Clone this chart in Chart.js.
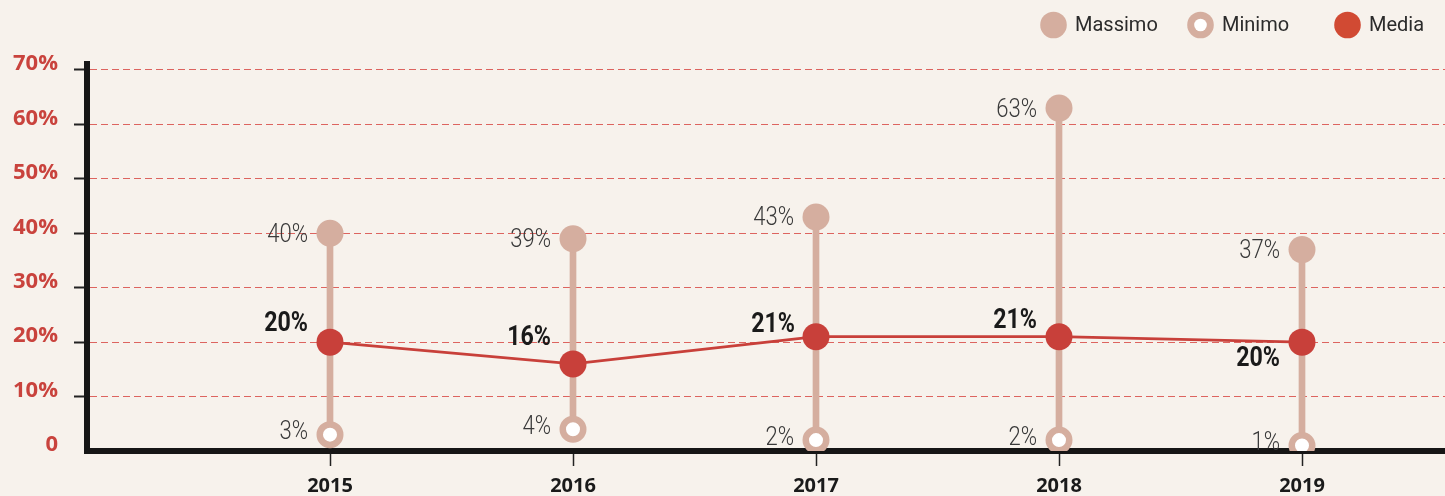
<!DOCTYPE html>
<html lang="it">
<head>
<meta charset="utf-8">
<title>Massimo, minimo e media 2015–2019</title>
<script src="https://cdn.jsdelivr.net/npm/chart.js@4.4.1/dist/chart.umd.min.js"></script>
<style>
  html, body { margin: 0; padding: 0; background: #f7f2ec; }
  #wrap { width: 1445px; height: 496px; }
  canvas { display: block; }
</style>
</head>
<body>
<div id="wrap"><canvas id="chart" width="1445" height="496"></canvas></div>
<script>
// Anni e valori (percentuali)
const anni = [2015, 2016, 2017, 2018, 2019];
const massimo = [40, 39, 43, 63, 37];
const minimo = [3, 4, 2, 2, 1];
const media = [20, 16, 21, 21, 20];
const yTicks = [0, 10, 20, 30, 40, 50, 60, 70];
const legendaVoci = ['Massimo', 'Minimo', 'Media'];

// Posizione delle etichette della media rispetto al punto (px)
const spostamentoMedia = [[-22, -18], [-22, -26], [-21, -11], [-22, -15], [-22, 17]];

const COL_CHIARO = '#d5ae9f';
const COL_ROSSO = '#c8403a';
const COL_LEGENDA_ROSSO = '#d14a33';
const COL_SFONDO = '#f7f2ec';

const sfondo = {
  id: 'sfondo',
  beforeDraw(chart) {
    const ctx = chart.ctx;
    ctx.save();
    ctx.fillStyle = COL_SFONDO;
    ctx.fillRect(0, 0, chart.width, chart.height);
    ctx.restore();
  }
};

function testoStretto(ctx, text, x, y, font, scala, colore) {
  ctx.save();
  ctx.translate(x, y);
  ctx.scale(scala, 1);
  ctx.font = font;
  ctx.fillStyle = colore;
  ctx.textAlign = 'right';
  ctx.textBaseline = 'middle';
  ctx.fillText(text, 0, 0);
  ctx.restore();
}

const etichette = {
  id: 'etichette',
  afterDatasetsDraw(chart) {
    const ctx = chart.ctx;
    const metaMin = chart.getDatasetMeta(1);
    const metaMax = chart.getDatasetMeta(2);
    const metaMedia = chart.getDatasetMeta(3);
    anni.forEach((a, i) => {
      const pMax = metaMax.data[i];
      const pMin = metaMin.data[i];
      const pMed = metaMedia.data[i];
      testoStretto(ctx, massimo[i] + '%', pMax.x - 22, pMax.y + 2, '300 26px Roboto', 0.85, '#3a3a3a');
      testoStretto(ctx, minimo[i] + '%', pMin.x - 22, pMin.y - 2, '300 26px Roboto', 0.85, '#3a3a3a');
      const s = spostamentoMedia[i];
      testoStretto(ctx, media[i] + '%', pMed.x + s[0], pMed.y + s[1], '700 27px Roboto', 0.86, '#1a1a1a');
    });
  }
};

const legenda = {
  id: 'legenda',
  afterDraw(chart) {
    const ctx = chart.ctx;
    const cy = 25;
    const centri = [1053.5, 1200.5, 1347.5];
    ctx.save();
    centri.forEach((cx, i) => {
      ctx.beginPath();
      ctx.arc(cx, cy, 13.3, 0, Math.PI * 2);
      ctx.fillStyle = i === 2 ? COL_LEGENDA_ROSSO : COL_CHIARO;
      ctx.fill();
      if (i === 1) {
        ctx.beginPath();
        ctx.arc(cx, cy, 6.3, 0, Math.PI * 2);
        ctx.fillStyle = '#ffffff';
        ctx.fill();
      }
      ctx.font = '400 20px Roboto';
      ctx.fillStyle = '#2b2b2b';
      ctx.textAlign = 'left';
      ctx.textBaseline = 'middle';
      ctx.fillText(legendaVoci[i], cx + 21.5, cy + 1);
    });
    ctx.restore();
  }
};

const ctx = document.getElementById('chart').getContext('2d');
new Chart(ctx, {
  type: 'line',
  data: {
    datasets: [
      {
        type: 'bar',
        label: 'Intervallo',
        data: anni.map((a, i) => ({ x: a, y: [minimo[i], massimo[i]] })),
        backgroundColor: COL_CHIARO,
        borderWidth: 0,
        barThickness: 6,
        order: 5
      },
      {
        label: 'Minimo',
        data: anni.map((a, i) => ({ x: a, y: minimo[i] })),
        showLine: false,
        pointRadius: 10.25,
        pointBorderWidth: 6.5,
        pointBackgroundColor: '#ffffff',
        pointBorderColor: COL_CHIARO,
        order: 3
      },
      {
        label: 'Massimo',
        data: anni.map((a, i) => ({ x: a, y: massimo[i] })),
        showLine: false,
        pointRadius: 13.5,
        pointBorderWidth: 0,
        pointBackgroundColor: COL_CHIARO,
        pointBorderColor: COL_CHIARO,
        order: 2
      },
      {
        label: 'Media',
        data: anni.map((a, i) => ({ x: a, y: media[i] })),
        borderColor: COL_ROSSO,
        borderWidth: 2.8,
        pointRadius: 13.5,
        pointBorderWidth: 0,
        pointBackgroundColor: COL_ROSSO,
        pointBorderColor: COL_ROSSO,
        tension: 0,
        order: 1
      }
    ]
  },
  options: {
    responsive: false,
    animation: false,
    events: [],
    devicePixelRatio: 1,
    layout: { autoPadding: false, padding: { top: 64, left: 0, right: 0, bottom: 0 } },
    plugins: {
      legend: { display: false },
      tooltip: { enabled: false }
    },
    scales: {
      x: {
        type: 'linear',
        min: 2014,
        max: 2014 + 1358 / 243,
        offset: false,
        afterFit(scale) { scale.height = 45; scale.paddingLeft = 0; scale.paddingRight = 0; },
        afterBuildTicks(scale) { scale.ticks = anni.map(v => ({ value: v })); },
        grid: {
          offset: false,
          drawOnChartArea: false,
          drawTicks: true,
          tickLength: 15,
          tickColor: '#222222',
          tickWidth: 1.5
        },
        border: { display: true, color: '#161616', width: 6 },
        ticks: {
          padding: 8,
          color: '#1a1a1a',
          font: { family: 'Open Sans', weight: '700', size: 20 },
          callback: v => String(v)
        }
      },
      y: {
        min: 0,
        max: 71.1,
        afterFit(scale) { scale.width = 87; },
        afterBuildTicks(scale) { scale.ticks = yTicks.map(v => ({ value: v })); },
        grid: {
          color: c => (c.tick && c.tick.value === 0) ? 'rgba(0,0,0,0)' : 'rgba(214,64,60,0.8)',
          lineWidth: 1,
          drawTicks: true,
          tickLength: 13,
          tickWidth: 2,
          tickColor: c => (c.tick && c.tick.value === 0) ? 'rgba(0,0,0,0)' : '#222222'
        },
        border: { display: true, color: '#161616', width: 6, dash: [7, 4] },
        ticks: {
          padding: 16,
          labelOffset: -6,
          color: '#c9433d',
          font: { family: 'Open Sans', weight: '700', size: 22 },
          callback: v => v === 0 ? '0' : v + '%'
        }
      }
    }
  },
  plugins: [sfondo, etichette, legenda]
});
</script>
</body>
</html>
